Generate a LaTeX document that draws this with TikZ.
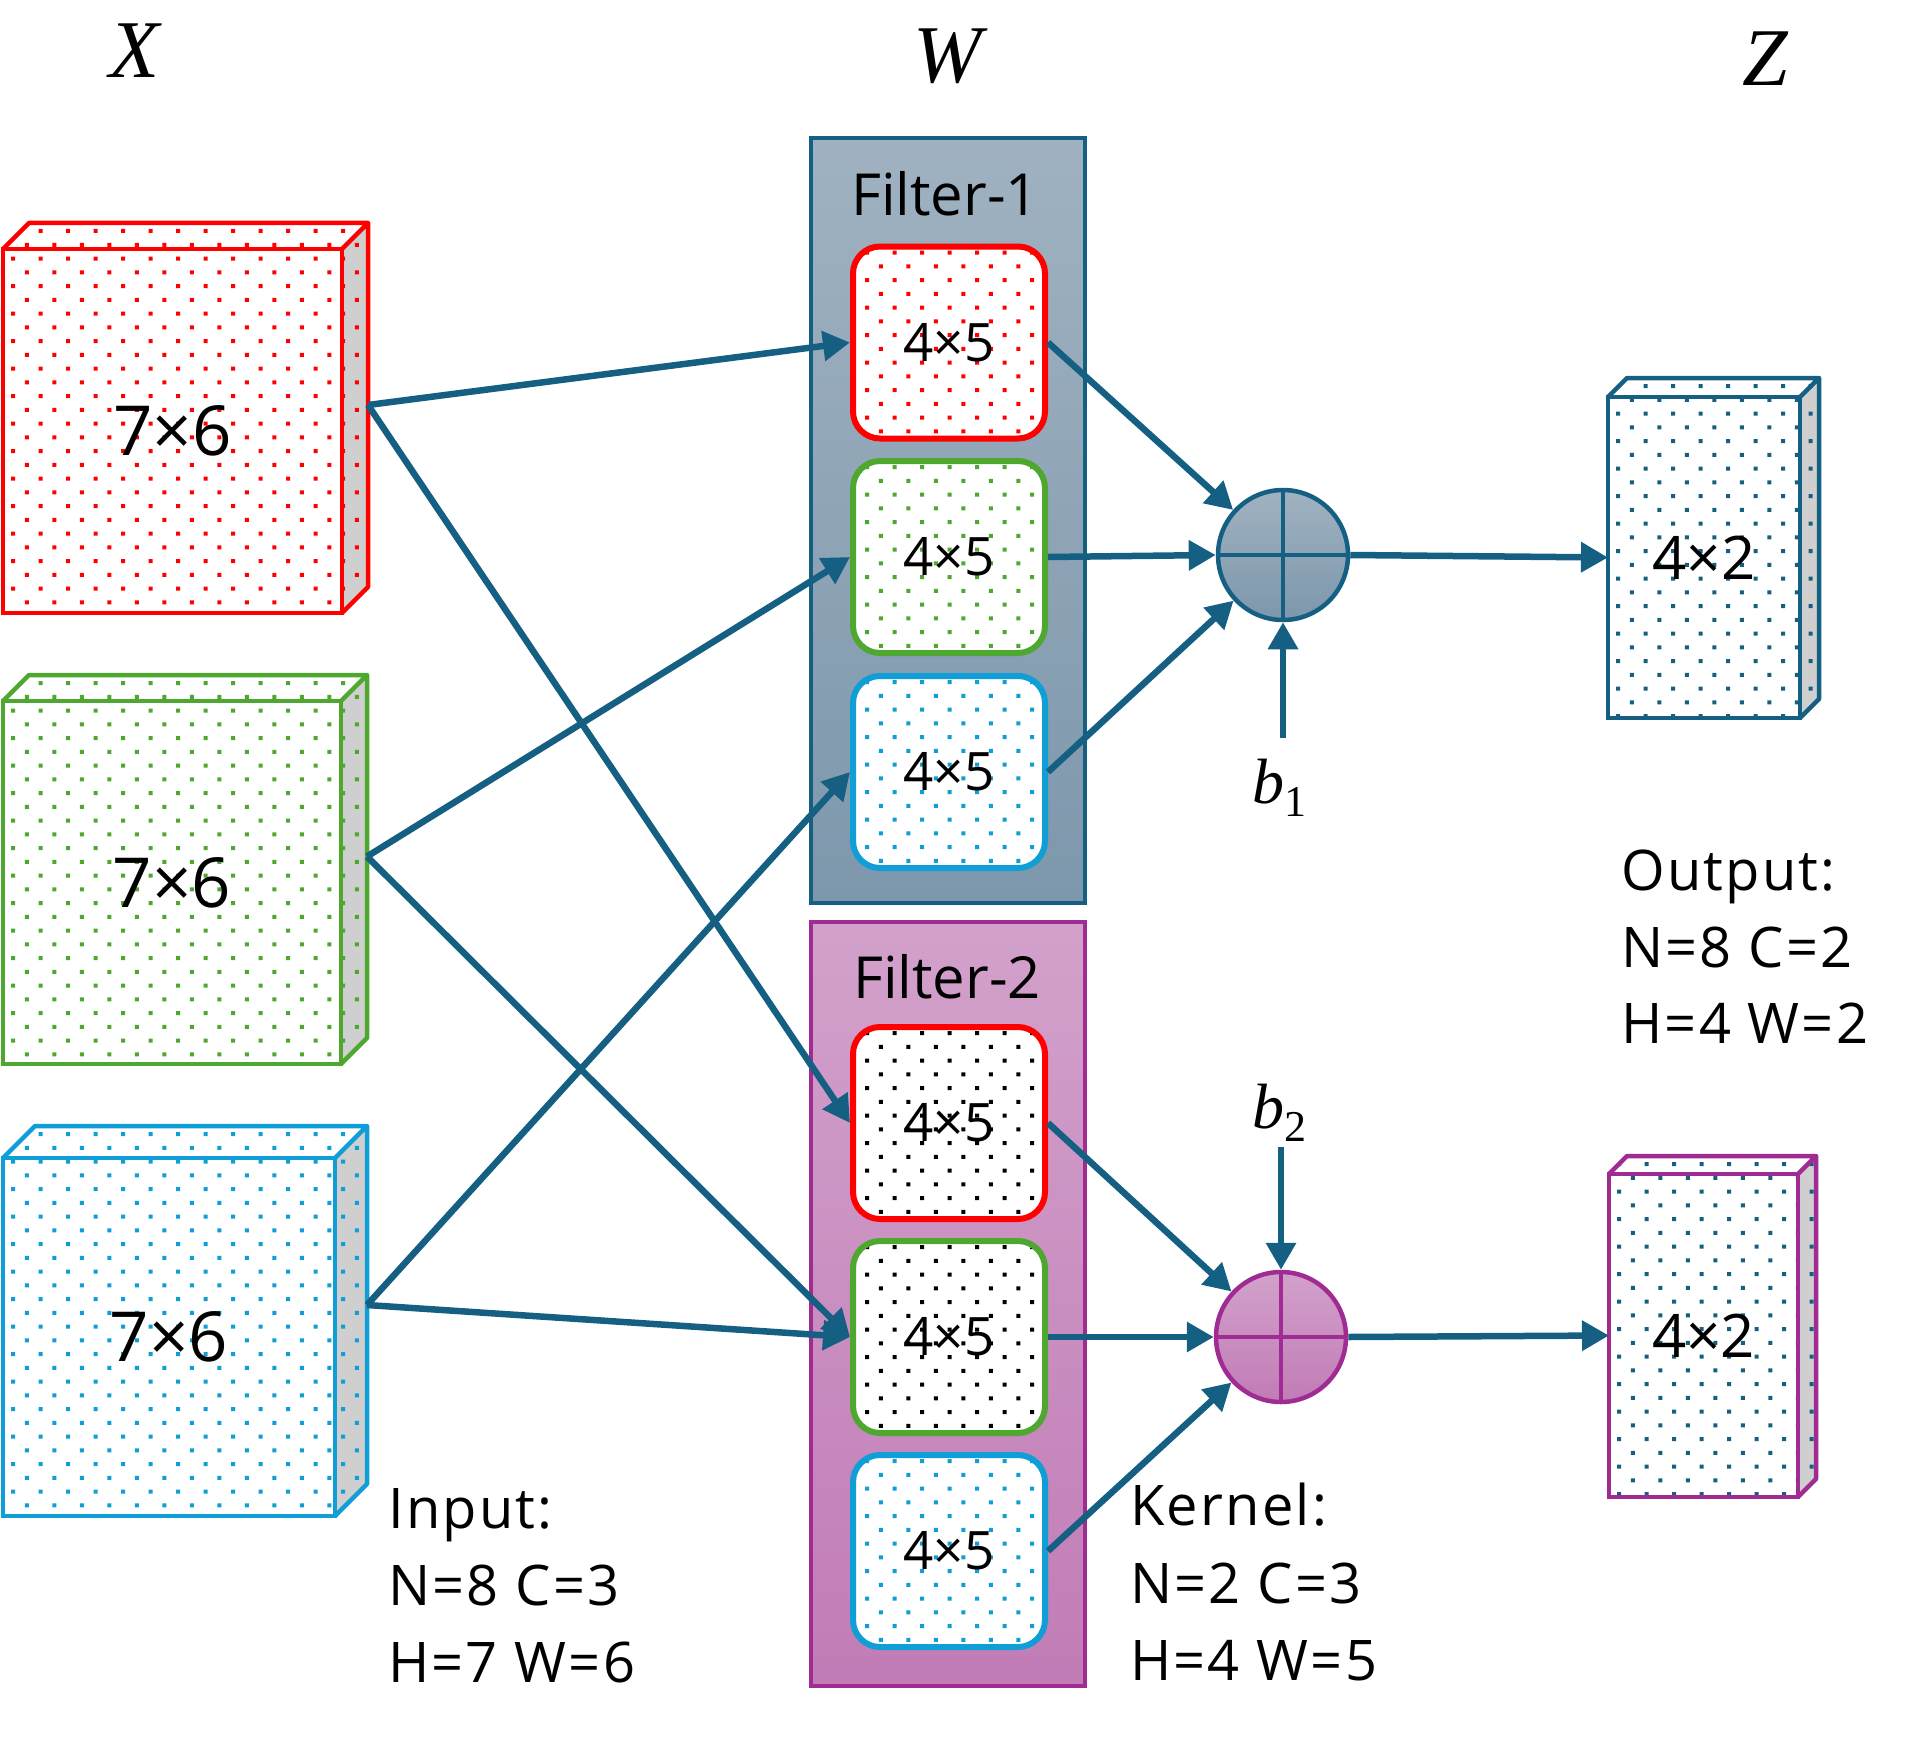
\documentclass[tikz,border=0pt]{standalone}
\usepackage{fontspec}
\setmainfont{Open Sans}
\newfontfamily\notefont{Open Sans}[LetterSpace=4]
\newfontfamily\mathlike{Liberation Serif}
\usetikzlibrary{arrows.meta}

\definecolor{accA}{HTML}{156082}
\definecolor{pur}{HTML}{A02B93}
\definecolor{grn}{HTML}{4EA72E}
\definecolor{blu}{HTML}{0F9ED5}
\definecolor{redA}{HTML}{FF0000}
\definecolor{sidegray}{HTML}{CFCFCF}
\definecolor{fAtop}{HTML}{A0B2C1}
\definecolor{fAbot}{HTML}{7D97AC}
\definecolor{fBtop}{HTML}{D2A1CB}
\definecolor{fBbot}{HTML}{C17CB6}

% staggered dot texture: colour, x0, y0, x1, y1
\newcommand\dotfield[5]{%
  \pgfmathtruncatemacro\dfnr{((#5)-(#3))/13.75}%
  \pgfmathtruncatemacro\dfnc{((#4)-(#2))/27.5}%
  \fill[#1] \foreach \dr in {0,...,\dfnr}{ \foreach \dc in {0,...,\dfnc}{
      ({(#2)+\dc*27.5+mod(\dr,2)*13.75},{(#3)+\dr*13.75}) rectangle ++(4,4) } };
}

% tensor block: name, line colour, dot colour, x1, y1, x2, y2, depth, label
\newcommand\cube[9]{%
  \fill[white] (#4,#5) rectangle (#6,#7);
  \fill[white] (#4,#5) -- ({#4+#8},{#5-#8}) -- ({#6+#8},{#5-#8}) -- (#6,#5) -- cycle;
  \fill[sidegray] (#6,#5) -- ({#6+#8},{#5-#8}) -- ({#6+#8},{#7-#8}) -- (#6,#7) -- cycle;
  \begin{scope}
    \clip (#4,#5) -- ({#4+#8},{#5-#8}) -- ({#6+#8},{#5-#8}) -- ({#6+#8},{#7-#8})
          -- (#6,#7) -- (#4,#7) -- cycle;
    \dotfield{#3}{#4+8}{#5-#8+6}{#6+#8}{#7}
  \end{scope}
  \draw[#2, line width=4.5pt, line join=round]
    (#4,#5) -- ({#4+#8},{#5-#8}) -- ({#6+#8},{#5-#8}) -- ({#6+#8},{#7-#8}) -- (#6,#7)
    (#6,#5) -- ({#6+#8},{#5-#8});
  \node[draw=#2, line width=4.5pt, minimum width={#6-#4}, minimum height={#7-#5},
        inner sep=0pt, outer sep=0pt] (#1) at ({(#4+#6)/2},{(#5+#7)/2}) {#9};
  \coordinate (#1-s) at ({#6+#8},{(#5+#7)/2-#8});
}

% kernel slice: name, border colour, dot colour, cx, cy
\newcommand\kbox[5]{%
  \fill[white, rounded corners=27pt] ({#4-96},{#5-96}) rectangle ({#4+96},{#5+96});
  \begin{scope}
    \clip[rounded corners=27pt] ({#4-96},{#5-96}) rectangle ({#4+96},{#5+96});
    \dotfield{#3}{#4-84}{#5-92}{#4+100}{#5+100}
  \end{scope}
  \node[kern, draw=#2] (#1) at (#4,#5) {4×5};
}

% italic symbol with upright subscript
\newcommand\biassym[1]{{\itshape b}\raisebox{-13pt}{\fontsize{44}{48}\selectfont #1}}

\begin{document}
\begin{tikzpicture}[x=1pt,y=-1pt,
  conn/.style={draw=accA, line width=6.5pt, -{Triangle[length=27pt,width=29pt]}},
  kern/.style={rounded corners=27pt, line width=6pt, minimum width=192pt,
               minimum height=192pt, inner sep=0pt, font=\fontsize{53}{56}\selectfont},
  filt/.style={line width=4pt, minimum width=274pt, inner sep=0pt},
  sumnode/.style={circle, line width=4.5pt, minimum size=130pt, inner sep=0pt},
  lbl/.style={anchor=base west, inner sep=0pt, font=\notefont\fontsize{56}{60}\selectfont},
  ttl/.style={inner sep=0pt, font=\mathlike\itshape\fontsize{82}{88}\selectfont},
  bias/.style={anchor=base west, inner sep=0pt, font=\mathlike\fontsize{64}{70}\selectfont}]

\useasboundingbox (0,0) rectangle (1922,1739);

% axis titles
\node[ttl] (tx) at (135,51) {X};
\node[ttl] (tw) at (948,56) {W};
\node[ttl] (tz) at (1765,59) {Z};

% input channels
\cube{xr}{redA}{redA}{3}{249}{342}{613}{26}{\fontsize{69}{72}\selectfont 7×6}
\cube{xg}{grn}{grn}{3}{701}{341}{1064}{26}{\fontsize{69}{72}\selectfont 7×6}
\cube{xb}{blu}{blu}{3}{1158}{335}{1516}{32}{\fontsize{69}{72}\selectfont 7×6}

% filter groups
\node[filt, draw=accA, top color=fAtop, bottom color=fAbot, minimum height=765pt] (f1) at (948,520.5) {};
\node[filt, draw=pur, top color=fBtop, bottom color=fBbot, minimum height=764pt] (f2) at (948,1304) {};
\node[anchor=base, inner sep=0pt, font=\fontsize{58}{62}\selectfont] (f1t) at (945,215) {Filter-1};
\node[anchor=base, inner sep=0pt, font=\fontsize{58}{62}\selectfont] (f2t) at (947,998) {Filter-2};

\kbox{f1r}{redA}{redA}{949}{342.5}
\kbox{f1g}{grn}{grn}{949}{557}
\kbox{f1b}{blu}{blu}{949}{772}
\kbox{f2r}{redA}{black}{949}{1123}
\kbox{f2g}{grn}{black}{949}{1337}
\kbox{f2b}{blu}{blu}{949}{1551}

% summation nodes
\node[sumnode, draw=accA, top color=fAtop, bottom color=fAbot] (s1) at (1283,555) {};
\node[sumnode, draw=pur, top color=fBtop, bottom color=fBbot] (s2) at (1281,1337) {};
\draw[accA, line width=4.5pt] ([yshift=65pt]s1.center) -- ([yshift=-65pt]s1.center)
  ([xshift=-65pt]s1.center) -- ([xshift=65pt]s1.center);
\draw[pur, line width=4.5pt] ([yshift=65pt]s2.center) -- ([yshift=-65pt]s2.center)
  ([xshift=-65pt]s2.center) -- ([xshift=65pt]s2.center);

% outputs
\cube{z1}{accA}{accA}{1608}{397}{1800}{718}{19}{\fontsize{60}{64}\selectfont 4×2}
\cube{z2}{pur}{accA}{1609}{1174}{1798}{1497}{18}{\fontsize{60}{64}\selectfont 4×2}

% biases
\node[bias] (b1) at (1252,803) {\biassym{1}};
\node[bias] (b2) at (1252,1128) {\biassym{2}};
\coordinate (b1s) at (1283,738);
\coordinate (b2s) at (1281,1147);

% connections
\draw[conn] (xr-s) -- (f1r.west);
\draw[conn] (xr-s) -- (f2r.west);
\draw[conn] (xg-s) -- (f1g.west);
\draw[conn] (xg-s) -- (f2g.west);
\draw[conn] (xb-s) -- (f1b.west);
\draw[conn] (xb-s) -- (f2g.west);

\draw[conn] (f1r.east) -- (s1);
\draw[conn] (f1g.east) -- (s1.west);
\draw[conn] (f1b.east) -- (s1);
\draw[conn] (f2r.east) -- (s2);
\draw[conn] (f2g.east) -- (s2.west);
\draw[conn] (f2b.east) -- (s2);

\draw[conn] (b1s) -- (s1);
\draw[conn] (b2s) -- (s2);
\draw[conn] (s1.east) -- (z1.west);
\draw[conn] (s2.east) -- (z2.west);

% shape annotations
\node[lbl] (in1) at (388,1528) {Input:};
\node[lbl] (in2) at (388,1605) {N=8 C=3};
\node[lbl] (in3) at (388,1682) {H=7 W=6};
\node[lbl] (ke1) at (1130,1525) {Kernel:};
\node[lbl] (ke2) at (1130,1603) {N=2 C=3};
\node[lbl] (ke3) at (1130,1680) {H=4 W=5};
\node[lbl] (ou1) at (1621,890) {Output:};
\node[lbl] (ou2) at (1621,967) {N=8 C=2};
\node[lbl] (ou3) at (1621,1043) {H=4 W=2};

\end{tikzpicture}
\end{document}
